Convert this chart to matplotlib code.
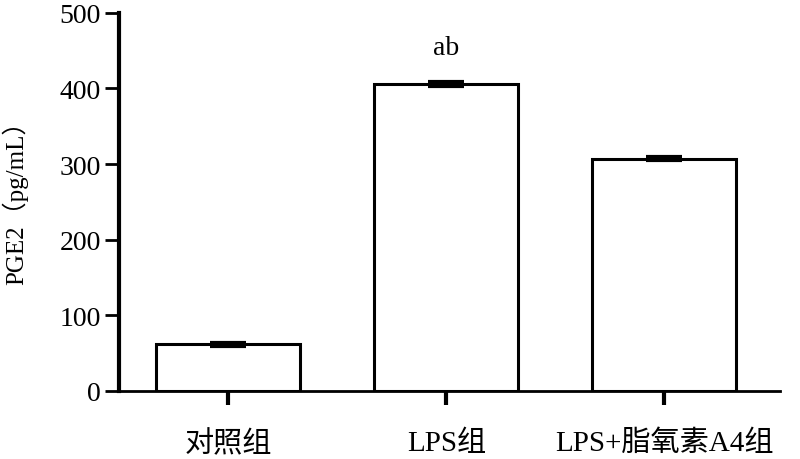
import matplotlib.pyplot as plt
import numpy as np

# ── data ──────────────────────────────────────────────
groups = ["对照组", "LPS组", "LPS+脂氧素A4组"]
pge2 = [62, 406, 307]
err = [2, 3, 2]
marks = ["", "ab", ""]
yticks = [0, 100, 200, 300, 400, 500]

fonts = ["Liberation Serif", "Noto Sans CJK SC", "DejaVu Sans"]
plt.rcParams["font.family"] = fonts

fig = plt.figure(figsize=(8, 4.6), dpi=100)
ax = fig.add_axes([0.149, 0.148, 0.826, 0.822])

x = np.arange(len(groups))
ax.bar(x, pge2, width=0.66, color="white", edgecolor="black", linewidth=2.2, zorder=2)
ax.errorbar(x, pge2, yerr=err, fmt="none", ecolor="black", elinewidth=2,
            capsize=13, capthick=3, zorder=3)

for xi, v, e, m in zip(x, pge2, err, marks):
    if m:
        ax.text(xi, v + e + 28, m, ha="center", va="bottom", fontsize=20)

ax.set_xlim(-0.5, 2.53)
ax.set_ylim(0, 500)
ax.set_yticks(yticks)
ax.set_xticks(x)
ax.set_xticklabels(groups, fontsize=21)
ax.tick_params(axis="y", labelsize=20, length=10, width=2, direction="out", pad=3)
ax.tick_params(axis="x", length=10, width=3, direction="out", pad=18)
ax.set_ylabel("PGE2（pg/mL）", fontsize=18)
ax.yaxis.set_label_coords(-0.137, 0.516)

for s in ["top", "right"]:
    ax.spines[s].set_visible(False)
ax.spines["left"].set_linewidth(3)
ax.spines["bottom"].set_linewidth(2)

plt.savefig("out.png", dpi=100)
